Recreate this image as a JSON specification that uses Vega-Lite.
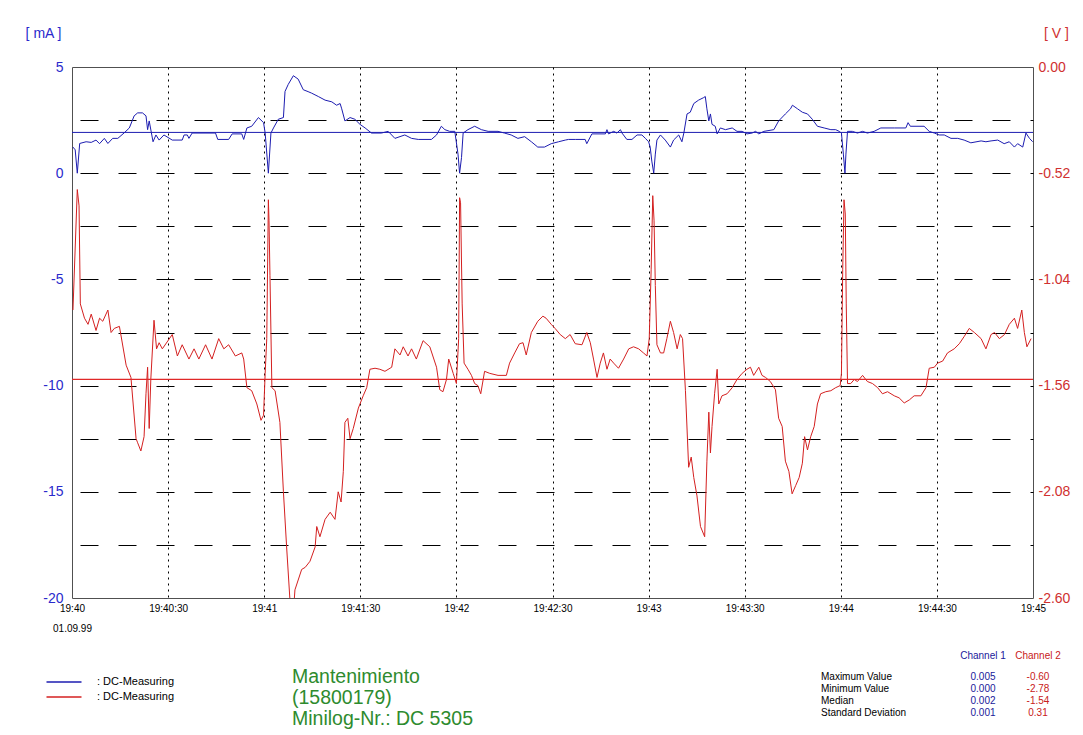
{
  "$schema": "https://vega.github.io/schema/vega-lite/v6.json",
  "width": 961,
  "height": 531,
  "autosize": {"type": "none"},
  "padding": {"left": 72, "top": 67, "right": 50, "bottom": 137},
  "background": "white",
  "config": {
    "view": {"stroke": "#505050", "strokeWidth": 1},
    "font": "Liberation Sans",
    "axis": {"labelFont": "Liberation Sans", "titleFont": "Liberation Sans", "domain": false, "ticks": false, "tickSize": 0, "labelOverlap": false, "labelFlush": false}
  },
  "datasets": {
    "ch1": [
      {"sec":0.3,"mA":1.23},{"sec":1.0,"mA":1.1},{"sec":1.65,"mA":0.0},{"sec":2.4,"mA":1.4},{"sec":4.4,"mA":1.48},{"sec":6.0,"mA":1.45},{"sec":7.5,"mA":1.56},{"sec":8.6,"mA":1.39},{"sec":10.1,"mA":1.64},{"sec":11.2,"mA":1.4},{"sec":12.7,"mA":1.64},{"sec":14.3,"mA":1.64},{"sec":16.3,"mA":1.9},{"sec":17.9,"mA":2.13},{"sec":19.4,"mA":2.7},{"sec":20.5,"mA":2.84},{"sec":22.0,"mA":2.84},{"sec":23.1,"mA":2.7},{"sec":23.6,"mA":2.05},{"sec":24.1,"mA":2.46},{"sec":25.3,"mA":1.48},{"sec":26.2,"mA":1.8},{"sec":27.2,"mA":1.56},{"sec":28.7,"mA":1.8},{"sec":31.3,"mA":1.56},{"sec":34.4,"mA":1.56},{"sec":35.0,"mA":1.8},{"sec":36.0,"mA":1.8},{"sec":36.5,"mA":1.64},{"sec":37.5,"mA":1.89},{"sec":44.8,"mA":1.89},{"sec":45.5,"mA":1.59},{"sec":48.9,"mA":1.59},{"sec":50.0,"mA":1.85},{"sec":53.0,"mA":1.85},{"sec":53.6,"mA":1.59},{"sec":54.6,"mA":2.13},{"sec":56.1,"mA":2.21},{"sec":58.2,"mA":2.62},{"sec":59.8,"mA":2.38},{"sec":60.3,"mA":1.89},{"sec":61.3,"mA":0.0},{"sec":62.1,"mA":1.89},{"sec":62.9,"mA":2.13},{"sec":64.4,"mA":2.54},{"sec":66.0,"mA":2.62},{"sec":66.5,"mA":3.85},{"sec":67.5,"mA":4.18},{"sec":69.1,"mA":4.59},{"sec":70.6,"mA":4.43},{"sec":72.2,"mA":3.93},{"sec":73.7,"mA":3.84},{"sec":74.8,"mA":3.77},{"sec":76.9,"mA":3.61},{"sec":79.0,"mA":3.44},{"sec":81.1,"mA":3.36},{"sec":82.6,"mA":3.2},{"sec":83.7,"mA":3.28},{"sec":84.2,"mA":3.03},{"sec":85.2,"mA":2.46},{"sec":86.8,"mA":2.62},{"sec":88.3,"mA":2.54},{"sec":89.9,"mA":2.3},{"sec":91.5,"mA":2.13},{"sec":93.5,"mA":1.89},{"sec":96.6,"mA":1.89},{"sec":98.7,"mA":1.97},{"sec":100.8,"mA":1.64},{"sec":103.9,"mA":1.8},{"sec":106.0,"mA":1.64},{"sec":108.1,"mA":1.59},{"sec":112.2,"mA":1.59},{"sec":113.8,"mA":1.8},{"sec":115.3,"mA":2.21},{"sec":116.4,"mA":2.05},{"sec":117.9,"mA":1.97},{"sec":119.5,"mA":1.97},{"sec":120.5,"mA":0.9},{"sec":121.0,"mA":0.0},{"sec":121.6,"mA":0.74},{"sec":122.1,"mA":1.89},{"sec":123.6,"mA":2.05},{"sec":125.7,"mA":2.21},{"sec":127.8,"mA":2.05},{"sec":129.9,"mA":1.97},{"sec":133.0,"mA":1.97},{"sec":135.0,"mA":1.89},{"sec":137.1,"mA":1.8},{"sec":139.2,"mA":1.64},{"sec":141.3,"mA":1.72},{"sec":143.4,"mA":1.48},{"sec":145.4,"mA":1.23},{"sec":147.5,"mA":1.23},{"sec":149.6,"mA":1.39},{"sec":151.9,"mA":1.48},{"sec":154.0,"mA":1.56},{"sec":155.0,"mA":1.59},{"sec":157.1,"mA":1.59},{"sec":160.2,"mA":1.59},{"sec":160.7,"mA":1.39},{"sec":162.3,"mA":1.85},{"sec":166.5,"mA":1.85},{"sec":167.0,"mA":2.05},{"sec":167.5,"mA":1.85},{"sec":169.1,"mA":1.97},{"sec":170.1,"mA":1.89},{"sec":171.2,"mA":2.05},{"sec":171.7,"mA":1.89},{"sec":173.2,"mA":1.59},{"sec":174.8,"mA":1.59},{"sec":176.4,"mA":1.8},{"sec":177.9,"mA":1.8},{"sec":179.0,"mA":1.64},{"sec":180.0,"mA":1.48},{"sec":180.5,"mA":1.23},{"sec":181.0,"mA":0.57},{"sec":181.6,"mA":0.0},{"sec":182.1,"mA":0.9},{"sec":182.6,"mA":1.56},{"sec":183.7,"mA":1.8},{"sec":185.2,"mA":1.56},{"sec":186.8,"mA":1.23},{"sec":187.8,"mA":1.56},{"sec":189.4,"mA":1.8},{"sec":190.4,"mA":1.48},{"sec":191.0,"mA":1.89},{"sec":192.0,"mA":2.79},{"sec":193.0,"mA":2.87},{"sec":194.1,"mA":3.28},{"sec":195.6,"mA":3.44},{"sec":197.2,"mA":3.56},{"sec":197.7,"mA":3.61},{"sec":198.2,"mA":3.03},{"sec":198.8,"mA":2.46},{"sec":199.3,"mA":2.79},{"sec":199.8,"mA":2.3},{"sec":200.8,"mA":2.21},{"sec":201.4,"mA":1.85},{"sec":202.4,"mA":2.13},{"sec":204.0,"mA":2.05},{"sec":206.1,"mA":2.13},{"sec":207.6,"mA":1.97},{"sec":209.2,"mA":1.97},{"sec":210.7,"mA":1.85},{"sec":212.3,"mA":1.89},{"sec":213.4,"mA":1.97},{"sec":214.4,"mA":1.85},{"sec":216.0,"mA":1.97},{"sec":219.1,"mA":2.05},{"sec":220.6,"mA":2.46},{"sec":222.7,"mA":2.79},{"sec":224.3,"mA":3.03},{"sec":224.9,"mA":3.2},{"sec":226.5,"mA":3.03},{"sec":228.0,"mA":2.87},{"sec":229.6,"mA":2.79},{"sec":231.1,"mA":2.54},{"sec":232.7,"mA":2.21},{"sec":234.8,"mA":2.13},{"sec":236.9,"mA":2.05},{"sec":238.4,"mA":2.05},{"sec":239.5,"mA":1.97},{"sec":240.2,"mA":1.89},{"sec":240.8,"mA":0.9},{"sec":241.3,"mA":0.0},{"sec":241.6,"mA":0.9},{"sec":242.1,"mA":1.97},{"sec":243.6,"mA":1.97},{"sec":245.2,"mA":1.89},{"sec":246.8,"mA":1.97},{"sec":248.3,"mA":1.89},{"sec":250.4,"mA":1.97},{"sec":252.5,"mA":2.13},{"sec":256.7,"mA":2.13},{"sec":260.3,"mA":2.13},{"sec":261.0,"mA":2.38},{"sec":261.7,"mA":2.21},{"sec":266.0,"mA":2.21},{"sec":267.6,"mA":1.97},{"sec":269.2,"mA":1.89},{"sec":270.7,"mA":1.8},{"sec":272.3,"mA":1.8},{"sec":274.4,"mA":1.64},{"sec":276.5,"mA":1.64},{"sec":278.5,"mA":1.56},{"sec":280.6,"mA":1.43},{"sec":283.8,"mA":1.52},{"sec":285.3,"mA":1.48},{"sec":286.9,"mA":1.52},{"sec":289.0,"mA":1.56},{"sec":291.0,"mA":1.39},{"sec":292.6,"mA":1.48},{"sec":294.2,"mA":1.23},{"sec":295.2,"mA":1.39},{"sec":296.8,"mA":1.23},{"sec":297.8,"mA":1.89},{"sec":298.9,"mA":1.64},{"sec":299.9,"mA":1.48}
    ],
    "ch2": [
      {"sec":0.3,"V":-1.19},{"sec":1.65,"V":-0.6},{"sec":2.2,"V":-0.68},{"sec":2.6,"V":-1.16},{"sec":3.9,"V":-1.23},{"sec":5.0,"V":-1.26},{"sec":6.0,"V":-1.21},{"sec":7.5,"V":-1.29},{"sec":8.6,"V":-1.23},{"sec":9.6,"V":-1.245},{"sec":11.2,"V":-1.19},{"sec":12.2,"V":-1.3},{"sec":13.2,"V":-1.28},{"sec":14.8,"V":-1.27},{"sec":16.9,"V":-1.46},{"sec":18.4,"V":-1.52},{"sec":20.0,"V":-1.82},{"sec":20.5,"V":-1.84},{"sec":21.5,"V":-1.88},{"sec":22.5,"V":-1.81},{"sec":23.1,"V":-1.6},{"sec":23.6,"V":-1.47},{"sec":24.1,"V":-1.77},{"sec":24.6,"V":-1.53},{"sec":25.6,"V":-1.24},{"sec":26.4,"V":-1.38},{"sec":27.2,"V":-1.35},{"sec":28.2,"V":-1.38},{"sec":31.3,"V":-1.31},{"sec":32.9,"V":-1.415},{"sec":34.4,"V":-1.36},{"sec":36.5,"V":-1.43},{"sec":38.1,"V":-1.38},{"sec":39.6,"V":-1.43},{"sec":41.7,"V":-1.36},{"sec":43.7,"V":-1.43},{"sec":45.8,"V":-1.33},{"sec":47.4,"V":-1.38},{"sec":48.9,"V":-1.36},{"sec":51.0,"V":-1.415},{"sec":53.0,"V":-1.4},{"sec":53.6,"V":-1.43},{"sec":54.6,"V":-1.57},{"sec":56.1,"V":-1.585},{"sec":57.7,"V":-1.65},{"sec":59.0,"V":-1.73},{"sec":59.8,"V":-1.705},{"sec":60.3,"V":-1.5},{"sec":60.8,"V":-1.33},{"sec":61.3,"V":-0.65},{"sec":61.5,"V":-0.75},{"sec":61.8,"V":-1.02},{"sec":62.4,"V":-1.57},{"sec":63.4,"V":-1.585},{"sec":64.9,"V":-1.74},{"sec":66.0,"V":-2.08},{"sec":67.0,"V":-2.35},{"sec":68.0,"V":-2.6},{"sec":68.6,"V":-2.78},{"sec":69.6,"V":-2.56},{"sec":71.7,"V":-2.46},{"sec":72.8,"V":-2.45},{"sec":74.3,"V":-2.42},{"sec":75.9,"V":-2.35},{"sec":76.4,"V":-2.25},{"sec":77.4,"V":-2.3},{"sec":79.0,"V":-2.215},{"sec":80.6,"V":-2.18},{"sec":82.1,"V":-2.215},{"sec":83.1,"V":-2.08},{"sec":84.0,"V":-2.13},{"sec":84.7,"V":-1.98},{"sec":85.2,"V":-1.74},{"sec":86.1,"V":-1.72},{"sec":86.8,"V":-1.82},{"sec":87.8,"V":-1.77},{"sec":89.4,"V":-1.67},{"sec":90.9,"V":-1.61},{"sec":92.0,"V":-1.57},{"sec":93.0,"V":-1.48},{"sec":94.6,"V":-1.475},{"sec":96.1,"V":-1.48},{"sec":97.7,"V":-1.49},{"sec":99.8,"V":-1.47},{"sec":100.8,"V":-1.38},{"sec":102.4,"V":-1.41},{"sec":103.4,"V":-1.37},{"sec":104.9,"V":-1.415},{"sec":106.0,"V":-1.38},{"sec":107.5,"V":-1.43},{"sec":109.6,"V":-1.34},{"sec":111.7,"V":-1.37},{"sec":113.8,"V":-1.47},{"sec":114.8,"V":-1.58},{"sec":115.8,"V":-1.59},{"sec":116.9,"V":-1.53},{"sec":117.6,"V":-1.43},{"sec":119.0,"V":-1.5},{"sec":120.0,"V":-1.55},{"sec":120.7,"V":-1.33},{"sec":121.0,"V":-0.64},{"sec":121.3,"V":-0.665},{"sec":121.8,"V":-1.16},{"sec":122.4,"V":-1.45},{"sec":123.6,"V":-1.48},{"sec":124.7,"V":-1.51},{"sec":125.7,"V":-1.55},{"sec":126.7,"V":-1.56},{"sec":127.6,"V":-1.6},{"sec":128.8,"V":-1.49},{"sec":130.4,"V":-1.5},{"sec":133.0,"V":-1.51},{"sec":135.6,"V":-1.51},{"sec":136.6,"V":-1.45},{"sec":138.2,"V":-1.4},{"sec":139.7,"V":-1.355},{"sec":140.8,"V":-1.35},{"sec":141.8,"V":-1.41},{"sec":143.4,"V":-1.3},{"sec":145.4,"V":-1.245},{"sec":147.0,"V":-1.22},{"sec":148.0,"V":-1.23},{"sec":149.6,"V":-1.26},{"sec":150.8,"V":-1.28},{"sec":152.4,"V":-1.31},{"sec":154.0,"V":-1.33},{"sec":155.5,"V":-1.31},{"sec":157.1,"V":-1.355},{"sec":159.2,"V":-1.36},{"sec":160.7,"V":-1.3},{"sec":161.8,"V":-1.35},{"sec":162.8,"V":-1.43},{"sec":163.9,"V":-1.52},{"sec":164.9,"V":-1.45},{"sec":165.9,"V":-1.4},{"sec":167.0,"V":-1.48},{"sec":168.0,"V":-1.43},{"sec":169.1,"V":-1.45},{"sec":170.6,"V":-1.475},{"sec":172.2,"V":-1.43},{"sec":173.8,"V":-1.38},{"sec":175.3,"V":-1.37},{"sec":176.9,"V":-1.38},{"sec":178.4,"V":-1.4},{"sec":179.5,"V":-1.415},{"sec":180.2,"V":-1.33},{"sec":180.8,"V":-0.99},{"sec":181.3,"V":-0.63},{"sec":181.7,"V":-0.75},{"sec":182.1,"V":-1.07},{"sec":182.6,"V":-1.36},{"sec":183.7,"V":-1.4},{"sec":184.7,"V":-1.4},{"sec":185.7,"V":-1.33},{"sec":186.8,"V":-1.245},{"sec":187.8,"V":-1.3},{"sec":188.9,"V":-1.38},{"sec":189.9,"V":-1.31},{"sec":190.6,"V":-1.33},{"sec":191.5,"V":-1.585},{"sec":192.5,"V":-1.96},{"sec":193.3,"V":-1.91},{"sec":194.1,"V":-2.01},{"sec":195.1,"V":-2.1},{"sec":196.2,"V":-2.25},{"sec":197.5,"V":-2.3},{"sec":198.2,"V":-1.93},{"sec":198.8,"V":-1.69},{"sec":199.3,"V":-1.89},{"sec":199.8,"V":-1.76},{"sec":200.6,"V":-1.6},{"sec":201.4,"V":-1.48},{"sec":201.9,"V":-1.65},{"sec":202.9,"V":-1.61},{"sec":204.5,"V":-1.6},{"sec":206.1,"V":-1.57},{"sec":207.6,"V":-1.53},{"sec":209.2,"V":-1.5},{"sec":210.7,"V":-1.48},{"sec":211.8,"V":-1.47},{"sec":212.8,"V":-1.51},{"sec":214.4,"V":-1.47},{"sec":215.4,"V":-1.51},{"sec":216.5,"V":-1.52},{"sec":218.0,"V":-1.54},{"sec":219.6,"V":-1.58},{"sec":220.6,"V":-1.72},{"sec":221.7,"V":-1.76},{"sec":222.7,"V":-1.93},{"sec":223.8,"V":-1.98},{"sec":224.8,"V":-2.09},{"sec":225.9,"V":-2.05},{"sec":227.0,"V":-2.01},{"sec":228.0,"V":-1.94},{"sec":228.7,"V":-1.81},{"sec":229.6,"V":-1.875},{"sec":230.6,"V":-1.81},{"sec":231.7,"V":-1.76},{"sec":232.7,"V":-1.65},{"sec":233.7,"V":-1.6},{"sec":235.3,"V":-1.59},{"sec":236.9,"V":-1.585},{"sec":238.4,"V":-1.57},{"sec":239.8,"V":-1.56},{"sec":240.2,"V":-1.5},{"sec":240.6,"V":-0.99},{"sec":241.0,"V":-0.65},{"sec":241.4,"V":-0.72},{"sec":241.7,"V":-1.16},{"sec":242.1,"V":-1.55},{"sec":243.1,"V":-1.55},{"sec":244.2,"V":-1.53},{"sec":245.2,"V":-1.54},{"sec":246.8,"V":-1.51},{"sec":248.3,"V":-1.54},{"sec":249.9,"V":-1.55},{"sec":251.5,"V":-1.57},{"sec":253.0,"V":-1.6},{"sec":254.6,"V":-1.59},{"sec":256.7,"V":-1.61},{"sec":258.2,"V":-1.62},{"sec":259.8,"V":-1.645},{"sec":261.4,"V":-1.63},{"sec":262.9,"V":-1.61},{"sec":265.0,"V":-1.61},{"sec":266.6,"V":-1.57},{"sec":267.6,"V":-1.475},{"sec":269.2,"V":-1.47},{"sec":270.2,"V":-1.45},{"sec":271.8,"V":-1.44},{"sec":273.3,"V":-1.4},{"sec":275.4,"V":-1.38},{"sec":277.0,"V":-1.355},{"sec":278.5,"V":-1.32},{"sec":280.1,"V":-1.28},{"sec":281.7,"V":-1.3},{"sec":283.8,"V":-1.33},{"sec":285.3,"V":-1.38},{"sec":286.9,"V":-1.31},{"sec":288.0,"V":-1.3},{"sec":289.5,"V":-1.33},{"sec":291.1,"V":-1.31},{"sec":292.6,"V":-1.26},{"sec":294.2,"V":-1.23},{"sec":295.2,"V":-1.28},{"sec":296.5,"V":-1.19},{"sec":297.3,"V":-1.3},{"sec":298.1,"V":-1.37},{"sec":299.4,"V":-1.33}
    ],
    "medians": [
      {"channel": "Channel 1", "value": 1.92},
      {"channel": "Channel 2", "value": -1.53}
    ],
    "stats": [
      {"statistic": "Maximum Value", "channel": "Channel 1", "value": "0.005"},
      {"statistic": "Maximum Value", "channel": "Channel 2", "value": "-0.60"},
      {"statistic": "Minimum Value", "channel": "Channel 1", "value": "0.000"},
      {"statistic": "Minimum Value", "channel": "Channel 2", "value": "-2.78"},
      {"statistic": "Median", "channel": "Channel 1", "value": "0.002"},
      {"statistic": "Median", "channel": "Channel 2", "value": "-1.54"},
      {"statistic": "Standard Deviation", "channel": "Channel 1", "value": "0.001"},
      {"statistic": "Standard Deviation", "channel": "Channel 2", "value": "0.31"}
    ],
    "caption": [
      {"text": "Mantenimiento\n(15800179)\nMinilog-Nr.: DC 5305"}
    ]
  },
  "resolve": {"scale": {"x": "independent", "y": "independent"}},
  "layer": [
    {
      "layer": [
        {
          "data": {"name": "ch1"},
          "mark": {"type": "line", "strokeWidth": 1, "clip": true},
          "encoding": {
            "x": {
              "field": "sec", "type": "quantitative",
              "scale": {"domain": [0, 300], "nice": false, "zero": false},
              "axis": {
                "title": null,
                "values": [0, 30, 60, 90, 120, 150, 180, 210, 240, 270, 300],
                "grid": true, "gridColor": "black", "gridDash": [2, 4], "gridWidth": 1,
                "gridOpacity": {"condition": {"test": "datum.value == 0 || datum.value == 300", "value": 0}, "value": 1},
                "labelExpr": "datum.value == 0 ? ['19:40', '01.09.99'] : '19:' + (40 + floor(datum.value / 60)) + (datum.value % 60 == 30 ? ':30' : '')",
                "labelFontSize": 10, "labelColor": "black", "labelPadding": 5, "labelLineHeight": 20
              }
            },
            "y": {
              "field": "mA", "type": "quantitative",
              "scale": {"domain": [-20, 5], "nice": false, "zero": false},
              "axis": {
                "orient": "left",
                "values": [5, 2.5, 0, -2.5, -5, -7.5, -10, -12.5, -15, -17.5, -20],
                "grid": true, "gridColor": "black", "gridDash": [18, 20], "gridDashOffset": 30, "gridWidth": 1,
                "gridOpacity": {"condition": {"test": "datum.value == 5 || datum.value == -20", "value": 0}, "value": 1},
                "labelExpr": "datum.value % 5 == 0 ? '' + datum.value : ''",
                "labelFontSize": 14, "labelColor": "#2a2acc", "labelPadding": 9,
                "title": "[ mA ]", "titleAngle": 0, "titleX": -29, "titleY": -34,
                "titleAlign": "center", "titleBaseline": "middle",
                "titleFontSize": 14, "titleFontWeight": "normal", "titleColor": "#2a2acc"
              }
            },
            "color": {
              "datum": "Channel 1", "type": "nominal",
              "scale": {"domain": ["Channel 1", "Channel 2"], "range": ["#1c1cb0", "#d42020"]},
              "legend": {
                "orient": "none", "legendX": -14, "legendY": 609, "title": null,
                "symbolType": "M-3.5,0L3.5,0", "symbolSize": 100, "symbolStrokeWidth": 1.3,
                "labelExpr": "': DC-Measuring'", "labelFontSize": 11, "labelFont": "Liberation Sans",
                "labelColor": "black", "rowPadding": 4, "labelOffset": 27, "padding": 0
              }
            }
          }
        },
        {
          "data": {"name": "medians"},
          "transform": [{"filter": "datum.channel == 'Channel 1'"}],
          "mark": {"type": "rule", "strokeWidth": 1, "stroke": "#1c1cb0"},
          "encoding": {
            "y": {"field": "value", "type": "quantitative"}
          }
        }
      ]
    },
    {
      "layer": [
        {
          "data": {"name": "ch2"},
          "mark": {"type": "line", "strokeWidth": 1, "clip": true},
          "encoding": {
            "x": {"field": "sec", "type": "quantitative", "scale": {"domain": [0, 300], "nice": false, "zero": false}, "axis": null},
            "y": {
              "field": "V", "type": "quantitative",
              "scale": {"domain": [-2.6, 0], "nice": false, "zero": false},
              "axis": {
                "orient": "right", "grid": false,
                "values": [0, -0.52, -1.04, -1.56, -2.08, -2.6],
                "labelExpr": "(datum.value < 0 ? '-' : '') + format(abs(datum.value), '.2f')",
                "labelFontSize": 14, "labelColor": "#d03030", "labelPadding": 5,
                "title": "[ V ]", "titleAngle": 0, "titleX": 23, "titleY": -34,
                "titleAlign": "center", "titleBaseline": "middle",
                "titleFontSize": 14, "titleFontWeight": "normal", "titleColor": "#d03030"
              }
            },
            "color": {"datum": "Channel 2", "type": "nominal"}
          }
        },
        {
          "data": {"name": "medians"},
          "transform": [{"filter": "datum.channel == 'Channel 2'"}],
          "mark": {"type": "rule", "strokeWidth": 1.3, "stroke": "#e02828"},
          "encoding": {
            "y": {"field": "value", "type": "quantitative"}
          }
        }
      ]
    },
    {
      "encoding": {
        "x": {"field": "channel", "type": "nominal", "scale": {"type": "point", "domain": ["Channel 1", "Channel 2"], "range": [911, 966], "padding": 0}, "axis": null},
        "y": {"field": "statistic", "type": "nominal", "scale": {"type": "point", "domain": ["Maximum Value", "Minimum Value", "Median", "Standard Deviation"], "range": [610, 646], "padding": 0}, "axis": null}
      },
      "layer": [
        {
          "data": {"name": "stats"},
          "transform": [{"filter": "datum.channel == 'Channel 1'"}],
          "mark": {"type": "text", "align": "left", "baseline": "middle", "fontSize": 10, "dx": -162, "clip": false, "font": "Liberation Sans"},
          "encoding": {"text": {"field": "statistic"}, "color": {"value": "black"}}
        },
        {
          "data": {"name": "stats"},
          "mark": {"type": "text", "align": "center", "baseline": "middle", "fontSize": 10, "clip": false, "font": "Liberation Sans"},
          "encoding": {
            "text": {"field": "value"},
            "color": {"condition": {"test": "datum.channel == 'Channel 1'", "value": "#20209a"}, "value": "#c82020"}
          }
        },
        {
          "data": {"name": "stats"},
          "transform": [{"filter": "datum.statistic == 'Maximum Value'"}],
          "mark": {"type": "text", "align": "center", "baseline": "middle", "fontSize": 10, "dy": -21, "clip": false, "font": "Liberation Sans"},
          "encoding": {
            "text": {"field": "channel"},
            "color": {"condition": {"test": "datum.channel == 'Channel 1'", "value": "#20209a"}, "value": "#c82020"}
          }
        },
        {
          "data": {"name": "caption"},
          "mark": {"type": "text", "align": "left", "baseline": "alphabetic", "fontSize": 19.5, "lineHeight": 21, "lineBreak": "\n", "dx": -691, "dy": 6, "clip": false, "font": "Liberation Sans", "color": "#2e8b2e"},
          "encoding": {
            "x": {"datum": "Channel 1"},
            "y": {"datum": "Maximum Value"},
            "text": {"field": "text"}
          }
        }
      ]
    }
  ]
}
